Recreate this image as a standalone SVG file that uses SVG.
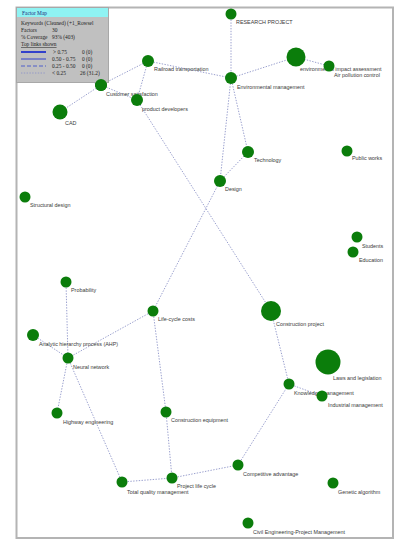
<svg xmlns="http://www.w3.org/2000/svg" width="401" height="542" viewBox="0 0 401 542">
  <style>
    .frame { fill: #ffffff; stroke: #b4b4b4; stroke-width: 2; }
    .edge { stroke: #8f95c8; stroke-width: 0.9; stroke-dasharray: 1.4 1.4; fill: none; }
    .node circle { fill: #0b7d0b; }
    .node text { font-family: "Liberation Sans", Arial, sans-serif; font-size: 5.4px; fill: #3a3a3a; }
    .lg { font-family: "Liberation Serif", "Times New Roman", serif; font-size: 5.4px; fill: #222222; }
  </style>

  <rect width="401" height="542" fill="#ffffff"/>
  <rect class="frame" x="16.5" y="7.5" width="376.5" height="530.5"/>

  <!-- links between factors -->
  <g id="connectors">
    <line class="edge" x1="231" y1="14" x2="231" y2="78"/>
    <line class="edge" x1="148" y1="61" x2="231" y2="78"/>
    <line class="edge" x1="148" y1="61" x2="101" y2="85"/>
    <line class="edge" x1="148" y1="61" x2="137" y2="100"/>
    <line class="edge" x1="231" y1="78" x2="296" y2="57"/>
    <line class="edge" x1="296" y1="57" x2="329" y2="66"/>
    <line class="edge" x1="101" y1="85" x2="60" y2="112"/>
    <line class="edge" x1="101" y1="85" x2="137" y2="100"/>
    <line class="edge" x1="101" y1="85" x2="80" y2="78"/>
    <line class="edge" x1="137" y1="100" x2="271" y2="311"/>
    <line class="edge" x1="231" y1="78" x2="220" y2="181"/>
    <line class="edge" x1="231" y1="78" x2="248" y2="152"/>
    <line class="edge" x1="248" y1="152" x2="220" y2="181"/>
    <line class="edge" x1="220" y1="181" x2="153" y2="311"/>
    <line class="edge" x1="153" y1="311" x2="68" y2="358"/>
    <line class="edge" x1="153" y1="311" x2="166" y2="412"/>
    <line class="edge" x1="66" y1="282" x2="68" y2="358"/>
    <line class="edge" x1="33" y1="335" x2="68" y2="358"/>
    <line class="edge" x1="68" y1="358" x2="57" y2="413"/>
    <line class="edge" x1="68" y1="358" x2="122" y2="482"/>
    <line class="edge" x1="166" y1="412" x2="172" y2="478"/>
    <line class="edge" x1="122" y1="482" x2="172" y2="478"/>
    <line class="edge" x1="172" y1="478" x2="238" y2="465"/>
    <line class="edge" x1="238" y1="465" x2="289" y2="384"/>
    <line class="edge" x1="289" y1="384" x2="271" y2="311"/>
    <line class="edge" x1="289" y1="384" x2="322" y2="396"/>
  </g>

  <g id="research-project" class="node"><text x="236" y="24">RESEARCH PROJECT</text><circle cx="231" cy="14" r="5.5"/></g>
  <g id="railroad-transportation" class="node"><text x="154" y="71">Railroad transportation</text><circle cx="148" cy="61" r="6"/></g>
  <g id="environmental-management" class="node"><text x="237" y="89">Environmental management</text><circle cx="231" cy="78" r="6"/></g>
  <g id="environmental-impact-assessment" class="node"><text x="300" y="71">environmental impact assessment</text><circle cx="296" cy="57" r="9.5"/></g>
  <g id="air-pollution-control" class="node"><text x="334" y="77">Air pollution control</text><circle cx="329" cy="66" r="5.5"/></g>
  <g id="customer-satisfaction" class="node"><text x="106" y="96">Customer satisfaction</text><circle cx="101" cy="85" r="6"/></g>
  <g id="product-developers" class="node"><text x="142" y="111">product developers</text><circle cx="137" cy="100" r="6"/></g>
  <g id="cad" class="node"><text x="65" y="125">CAD</text><circle cx="60" cy="112" r="7.5"/></g>
  <g id="technology" class="node"><text x="254" y="162">Technology</text><circle cx="248" cy="152" r="6"/></g>
  <g id="design" class="node"><text x="225" y="191">Design</text><circle cx="220" cy="181" r="6"/></g>
  <g id="public-works" class="node"><text x="352" y="160">Public works</text><circle cx="347" cy="151" r="5.5"/></g>
  <g id="students" class="node"><text x="362" y="248">Students</text><circle cx="357" cy="237" r="5.5"/></g>
  <g id="education" class="node"><text x="359" y="262">Education</text><circle cx="353" cy="252" r="5.5"/></g>
  <g id="structural-design" class="node"><text x="30" y="207">Structural design</text><circle cx="25" cy="197" r="5.5"/></g>
  <g id="probability" class="node"><text x="71" y="292">Probability</text><circle cx="66" cy="282" r="5.5"/></g>
  <g id="life-cycle-costs" class="node"><text x="158" y="321">Life-cycle costs</text><circle cx="153" cy="311" r="5.5"/></g>
  <g id="ahp" class="node"><text x="39" y="346">Analytic hierarchy process (AHP)</text><circle cx="33" cy="335" r="6"/></g>
  <g id="neural-network" class="node"><text x="73" y="369">Neural network</text><circle cx="68" cy="358" r="5.5"/></g>
  <g id="construction-project" class="node"><text x="276" y="326">Construction project</text><circle cx="271" cy="311" r="10"/></g>
  <g id="laws-and-legislation" class="node"><text x="333" y="380">Laws and legislation</text><circle cx="328" cy="362" r="12.5"/></g>
  <g id="knowledge-management" class="node"><text x="294" y="395">Knowledge management</text><circle cx="289" cy="384" r="5.5"/></g>
  <g id="industrial-management" class="node"><text x="328" y="407">Industrial management</text><circle cx="322" cy="396" r="5.5"/></g>
  <g id="highway-engineering" class="node"><text x="63" y="424">Highway engineering</text><circle cx="57" cy="413" r="5.5"/></g>
  <g id="construction-equipment" class="node"><text x="171" y="422">Construction equipment</text><circle cx="166" cy="412" r="5.5"/></g>
  <g id="total-quality-management" class="node"><text x="127" y="494">Total quality management</text><circle cx="122" cy="482" r="5.5"/></g>
  <g id="project-life-cycle" class="node"><text x="177" y="488">Project life cycle</text><circle cx="172" cy="478" r="5.5"/></g>
  <g id="competitive-advantage" class="node"><text x="243" y="476">Competitive advantage</text><circle cx="238" cy="465" r="5.5"/></g>
  <g id="genetic-algorithm" class="node"><text x="338" y="494">Genetic algorithm</text><circle cx="333" cy="483" r="5.5"/></g>
  <g id="civil-engineering-pm" class="node"><text x="253" y="534">Civil Engineering-Project Management</text><circle cx="248" cy="523" r="5.5"/></g>

  <!-- legend panel -->
  <g id="legend">
    <rect x="16.5" y="7.5" width="92" height="75" fill="#c0c0c0" stroke="#a8a8a8" stroke-width="1"/>
    <rect x="17" y="8" width="91" height="9" fill="#8ff3f3"/>
    <text class="lg" x="22" y="15" style="fill:#1a2a80">Factor Map</text>
    <text class="lg" x="21" y="25">Keywords (Cleaned) (+1_Rowsel</text>
    <text class="lg" x="21" y="32">Factors</text>
    <text class="lg" x="52" y="32">30</text>
    <text class="lg" x="21" y="39">% Coverage</text>
    <text class="lg" x="52" y="39">93% (403)</text>
    <text class="lg" x="21" y="46" text-decoration="underline">Top links shown</text>
    <line x1="21" y1="52" x2="46" y2="52" stroke="#2233cc" stroke-width="1.8"/>
    <text class="lg" x="53" y="54">&gt; 0.75</text>
    <text class="lg" x="82" y="54">0 (0)</text>
    <line x1="21" y1="59" x2="46" y2="59" stroke="#2233cc" stroke-width="0.9"/>
    <text class="lg" x="52" y="61">0.50 - 0.75</text>
    <text class="lg" x="82" y="61">0 (0)</text>
    <line x1="21" y1="66" x2="46" y2="66" stroke="#4455cc" stroke-width="0.9" stroke-dasharray="4 2"/>
    <text class="lg" x="52" y="68">0.25 - 0.50</text>
    <text class="lg" x="82" y="68">0 (0)</text>
    <line x1="21" y1="73" x2="46" y2="73" stroke="#8f95c8" stroke-width="0.9" stroke-dasharray="1.4 1.4"/>
    <text class="lg" x="52" y="75">&lt; 0.25</text>
    <text class="lg" x="80" y="75">26 (31.2)</text>
  </g>
  <!-- factor drawn over the legend corner -->
  <g id="customer-satisfaction-front" class="node"><circle cx="101" cy="85" r="6"/></g>
</svg>
